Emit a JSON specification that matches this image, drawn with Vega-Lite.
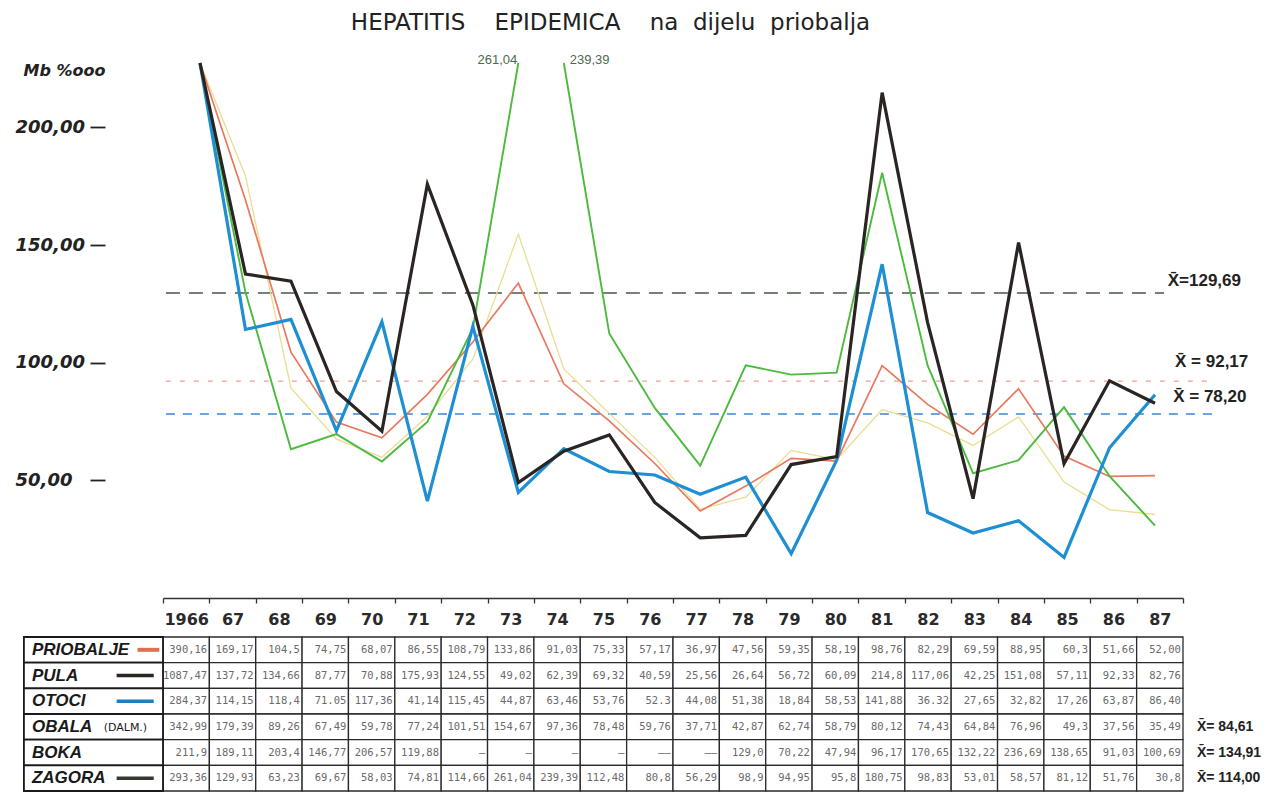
{
  "$schema": "https://vega.github.io/schema/vega-lite/v6.json",
  "width": 1269,
  "height": 801,
  "autosize": {"type": "none"},
  "padding": 0,
  "background": "white",
  "config": {"view": {"stroke": null}},
  "title": {
    "text": "HEPATITIS\u00a0\u00a0\u00a0\u00a0EPIDEMICA\u00a0\u00a0\u00a0\u00a0na\u00a0\u00a0dijelu\u00a0\u00a0priobalja",
    "anchor": "middle",
    "frame": "group",
    "font": "DejaVu Sans",
    "fontSize": 23,
    "fontWeight": "normal",
    "color": "#222222",
    "offset": 0,
    "baseline": "alphabetic",
    "dy": 53,
    "dx": -24
  },
  "datasets": {
    "t": [
      {"s":"PRIOBALJE","yr":1966,"v":390.16,"t":"390,16"},
      {"s":"PRIOBALJE","yr":1967,"v":169.17,"t":"169,17"},
      {"s":"PRIOBALJE","yr":1968,"v":104.5,"t":"104,5"},
      {"s":"PRIOBALJE","yr":1969,"v":74.75,"t":"74,75"},
      {"s":"PRIOBALJE","yr":1970,"v":68.07,"t":"68,07"},
      {"s":"PRIOBALJE","yr":1971,"v":86.55,"t":"86,55"},
      {"s":"PRIOBALJE","yr":1972,"v":108.79,"t":"108,79"},
      {"s":"PRIOBALJE","yr":1973,"v":133.86,"t":"133,86"},
      {"s":"PRIOBALJE","yr":1974,"v":91.03,"t":"91,03"},
      {"s":"PRIOBALJE","yr":1975,"v":75.33,"t":"75,33"},
      {"s":"PRIOBALJE","yr":1976,"v":57.17,"t":"57,17"},
      {"s":"PRIOBALJE","yr":1977,"v":36.97,"t":"36,97"},
      {"s":"PRIOBALJE","yr":1978,"v":47.56,"t":"47,56"},
      {"s":"PRIOBALJE","yr":1979,"v":59.35,"t":"59,35"},
      {"s":"PRIOBALJE","yr":1980,"v":58.19,"t":"58,19"},
      {"s":"PRIOBALJE","yr":1981,"v":98.76,"t":"98,76"},
      {"s":"PRIOBALJE","yr":1982,"v":82.29,"t":"82,29"},
      {"s":"PRIOBALJE","yr":1983,"v":69.59,"t":"69,59"},
      {"s":"PRIOBALJE","yr":1984,"v":88.95,"t":"88,95"},
      {"s":"PRIOBALJE","yr":1985,"v":60.3,"t":"60,3"},
      {"s":"PRIOBALJE","yr":1986,"v":51.66,"t":"51,66"},
      {"s":"PRIOBALJE","yr":1987,"v":52.0,"t":"52,00"},
      {"s":"PULA","yr":1966,"v":1087.47,"t":"1087,47"},
      {"s":"PULA","yr":1967,"v":137.72,"t":"137,72"},
      {"s":"PULA","yr":1968,"v":134.66,"t":"134,66"},
      {"s":"PULA","yr":1969,"v":87.77,"t":"87,77"},
      {"s":"PULA","yr":1970,"v":70.88,"t":"70,88"},
      {"s":"PULA","yr":1971,"v":175.93,"t":"175,93"},
      {"s":"PULA","yr":1972,"v":124.55,"t":"124,55"},
      {"s":"PULA","yr":1973,"v":49.02,"t":"49,02"},
      {"s":"PULA","yr":1974,"v":62.39,"t":"62,39"},
      {"s":"PULA","yr":1975,"v":69.32,"t":"69,32"},
      {"s":"PULA","yr":1976,"v":40.59,"t":"40,59"},
      {"s":"PULA","yr":1977,"v":25.56,"t":"25,56"},
      {"s":"PULA","yr":1978,"v":26.64,"t":"26,64"},
      {"s":"PULA","yr":1979,"v":56.72,"t":"56,72"},
      {"s":"PULA","yr":1980,"v":60.09,"t":"60,09"},
      {"s":"PULA","yr":1981,"v":214.8,"t":"214,8"},
      {"s":"PULA","yr":1982,"v":117.06,"t":"117,06"},
      {"s":"PULA","yr":1983,"v":42.25,"t":"42,25"},
      {"s":"PULA","yr":1984,"v":151.08,"t":"151,08"},
      {"s":"PULA","yr":1985,"v":57.11,"t":"57,11"},
      {"s":"PULA","yr":1986,"v":92.33,"t":"92,33"},
      {"s":"PULA","yr":1987,"v":82.76,"t":"82,76"},
      {"s":"OTOCI","yr":1966,"v":284.37,"t":"284,37"},
      {"s":"OTOCI","yr":1967,"v":114.15,"t":"114,15"},
      {"s":"OTOCI","yr":1968,"v":118.4,"t":"118,4"},
      {"s":"OTOCI","yr":1969,"v":71.05,"t":"71.05"},
      {"s":"OTOCI","yr":1970,"v":117.36,"t":"117,36"},
      {"s":"OTOCI","yr":1971,"v":41.14,"t":"41,14"},
      {"s":"OTOCI","yr":1972,"v":115.45,"t":"115,45"},
      {"s":"OTOCI","yr":1973,"v":44.87,"t":"44,87"},
      {"s":"OTOCI","yr":1974,"v":63.46,"t":"63,46"},
      {"s":"OTOCI","yr":1975,"v":53.76,"t":"53,76"},
      {"s":"OTOCI","yr":1976,"v":52.3,"t":"52.3"},
      {"s":"OTOCI","yr":1977,"v":44.08,"t":"44,08"},
      {"s":"OTOCI","yr":1978,"v":51.38,"t":"51,38"},
      {"s":"OTOCI","yr":1979,"v":18.84,"t":"18,84"},
      {"s":"OTOCI","yr":1980,"v":58.53,"t":"58,53"},
      {"s":"OTOCI","yr":1981,"v":141.88,"t":"141,88"},
      {"s":"OTOCI","yr":1982,"v":36.32,"t":"36.32"},
      {"s":"OTOCI","yr":1983,"v":27.65,"t":"27,65"},
      {"s":"OTOCI","yr":1984,"v":32.82,"t":"32,82"},
      {"s":"OTOCI","yr":1985,"v":17.26,"t":"17,26"},
      {"s":"OTOCI","yr":1986,"v":63.87,"t":"63,87"},
      {"s":"OTOCI","yr":1987,"v":86.4,"t":"86,40"},
      {"s":"OBALA","yr":1966,"v":342.99,"t":"342,99"},
      {"s":"OBALA","yr":1967,"v":179.39,"t":"179,39"},
      {"s":"OBALA","yr":1968,"v":89.26,"t":"89,26"},
      {"s":"OBALA","yr":1969,"v":67.49,"t":"67,49"},
      {"s":"OBALA","yr":1970,"v":59.78,"t":"59,78"},
      {"s":"OBALA","yr":1971,"v":77.24,"t":"77,24"},
      {"s":"OBALA","yr":1972,"v":101.51,"t":"101,51"},
      {"s":"OBALA","yr":1973,"v":154.67,"t":"154,67"},
      {"s":"OBALA","yr":1974,"v":97.36,"t":"97,36"},
      {"s":"OBALA","yr":1975,"v":78.48,"t":"78,48"},
      {"s":"OBALA","yr":1976,"v":59.76,"t":"59,76"},
      {"s":"OBALA","yr":1977,"v":37.71,"t":"37,71"},
      {"s":"OBALA","yr":1978,"v":42.87,"t":"42,87"},
      {"s":"OBALA","yr":1979,"v":62.74,"t":"62,74"},
      {"s":"OBALA","yr":1980,"v":58.79,"t":"58,79"},
      {"s":"OBALA","yr":1981,"v":80.12,"t":"80,12"},
      {"s":"OBALA","yr":1982,"v":74.43,"t":"74,43"},
      {"s":"OBALA","yr":1983,"v":64.84,"t":"64,84"},
      {"s":"OBALA","yr":1984,"v":76.96,"t":"76,96"},
      {"s":"OBALA","yr":1985,"v":49.3,"t":"49,3"},
      {"s":"OBALA","yr":1986,"v":37.56,"t":"37,56"},
      {"s":"OBALA","yr":1987,"v":35.49,"t":"35,49"},
      {"s":"BOKA","yr":1966,"v":211.9,"t":"211,9"},
      {"s":"BOKA","yr":1967,"v":189.11,"t":"189,11"},
      {"s":"BOKA","yr":1968,"v":203.4,"t":"203,4"},
      {"s":"BOKA","yr":1969,"v":146.77,"t":"146,77"},
      {"s":"BOKA","yr":1970,"v":206.57,"t":"206,57"},
      {"s":"BOKA","yr":1971,"v":119.88,"t":"119,88"},
      {"s":"BOKA","yr":1972,"v":null,"t":"—"},
      {"s":"BOKA","yr":1973,"v":null,"t":"—"},
      {"s":"BOKA","yr":1974,"v":null,"t":"—"},
      {"s":"BOKA","yr":1975,"v":null,"t":"—"},
      {"s":"BOKA","yr":1976,"v":null,"t":"——"},
      {"s":"BOKA","yr":1977,"v":null,"t":"——"},
      {"s":"BOKA","yr":1978,"v":129.0,"t":"129,0"},
      {"s":"BOKA","yr":1979,"v":70.22,"t":"70,22"},
      {"s":"BOKA","yr":1980,"v":47.94,"t":"47,94"},
      {"s":"BOKA","yr":1981,"v":96.17,"t":"96,17"},
      {"s":"BOKA","yr":1982,"v":170.65,"t":"170,65"},
      {"s":"BOKA","yr":1983,"v":132.22,"t":"132,22"},
      {"s":"BOKA","yr":1984,"v":236.69,"t":"236,69"},
      {"s":"BOKA","yr":1985,"v":138.65,"t":"138,65"},
      {"s":"BOKA","yr":1986,"v":91.03,"t":"91,03"},
      {"s":"BOKA","yr":1987,"v":100.69,"t":"100,69"},
      {"s":"ZAGORA","yr":1966,"v":293.36,"t":"293,36"},
      {"s":"ZAGORA","yr":1967,"v":129.93,"t":"129,93"},
      {"s":"ZAGORA","yr":1968,"v":63.23,"t":"63,23"},
      {"s":"ZAGORA","yr":1969,"v":69.67,"t":"69,67"},
      {"s":"ZAGORA","yr":1970,"v":58.03,"t":"58,03"},
      {"s":"ZAGORA","yr":1971,"v":74.81,"t":"74,81"},
      {"s":"ZAGORA","yr":1972,"v":114.66,"t":"114,66"},
      {"s":"ZAGORA","yr":1973,"v":261.04,"t":"261,04"},
      {"s":"ZAGORA","yr":1974,"v":239.39,"t":"239,39"},
      {"s":"ZAGORA","yr":1975,"v":112.48,"t":"112,48"},
      {"s":"ZAGORA","yr":1976,"v":80.8,"t":"80,8"},
      {"s":"ZAGORA","yr":1977,"v":56.29,"t":"56,29"},
      {"s":"ZAGORA","yr":1978,"v":98.9,"t":"98,9"},
      {"s":"ZAGORA","yr":1979,"v":94.95,"t":"94,95"},
      {"s":"ZAGORA","yr":1980,"v":95.8,"t":"95,8"},
      {"s":"ZAGORA","yr":1981,"v":180.75,"t":"180,75"},
      {"s":"ZAGORA","yr":1982,"v":98.83,"t":"98,83"},
      {"s":"ZAGORA","yr":1983,"v":53.01,"t":"53,01"},
      {"s":"ZAGORA","yr":1984,"v":58.57,"t":"58,57"},
      {"s":"ZAGORA","yr":1985,"v":81.12,"t":"81,12"},
      {"s":"ZAGORA","yr":1986,"v":51.76,"t":"51,76"},
      {"s":"ZAGORA","yr":1987,"v":30.8,"t":"30,8"}
    ]
  },
  "layer": [
    {
      "layer": [
        {
          "data": {"values": [{"mean": 129.69, "label": "X̄=129,69"}]},
          "mark": {"type": "rule", "color": "#485848", "strokeWidth": 1.5, "strokeDash": [14, 9]},
          "encoding": {
            "y": {"field": "mean", "type": "quantitative",
              "scale": {"domain": [0, 227.4], "range": [598, 63], "clamp": true, "nice": false, "zero": false},
              "axis": {
                "orient": "left", "offset": -105, "values": [50, 100, 150, 200],
                "labelExpr": "replace(format(datum.value, '.2f'), '.', ',')",
                "domain": false, "grid": false,
                "ticks": true, "tickSize": 15, "tickWidth": 1.8, "tickColor": "#222222",
                "labelAlign": "left", "labelPadding": 75, "labelBaseline": "middle",
                "labelFont": "DejaVu Sans", "labelFontSize": 18, "labelFontStyle": "italic", "labelFontWeight": "bold", "labelColor": "#222222",
                "title": "Mb %ooo", "titleAngle": 0, "titleX": -82, "titleY": 75, "titleAlign": "left", "titleBaseline": "alphabetic",
                "titleFont": "DejaVu Sans", "titleFontSize": 16, "titleFontStyle": "italic", "titleFontWeight": "bold", "titleColor": "#222222"
              }
            },
            "x": {"datum": 1965.25, "type": "quantitative", "scale": {"domain": [1966, 1987], "range": [200, 1155], "nice": false, "zero": false}, "axis": null},
            "x2": {"datum": 1987.2}
          }
        },
        {
          "data": {"values": [{"mean": 92.17, "label": "X̄ = 92,17"}]},
          "mark": {"type": "rule", "color": "#f0a090", "strokeWidth": 1.4, "strokeDash": [5, 9]},
          "encoding": {
            "y": {"field": "mean", "type": "quantitative"},
            "x": {"datum": 1965.25, "type": "quantitative", "axis": null},
            "x2": {"datum": 1988.3}
          }
        },
        {
          "data": {"values": [{"mean": 78.2, "label": "X̄ = 78,20"}]},
          "mark": {"type": "rule", "color": "#3a86d6", "strokeWidth": 1.5, "strokeDash": [9, 8]},
          "encoding": {
            "y": {"field": "mean", "type": "quantitative"},
            "x": {"datum": 1965.25, "type": "quantitative", "axis": null},
            "x2": {"datum": 1988.3}
          }
        },
        {
          "data": {"values": [{"mean": 129.69, "label": "X̄=129,69"}]},
          "mark": {"type": "text", "align": "left", "baseline": "alphabetic", "dy": -7, "font": "Liberation Sans", "fontSize": 17, "fontWeight": "bold", "color": "#222222"},
          "encoding": {
            "y": {"field": "mean", "type": "quantitative"},
            "x": {"datum": 1987.28, "type": "quantitative", "axis": null},
            "text": {"field": "label"}
          }
        },
        {
          "data": {"values": [{"mean": 92.17, "label": "X̄ = 92,17"}]},
          "mark": {"type": "text", "align": "left", "baseline": "alphabetic", "dy": -14, "font": "Liberation Sans", "fontSize": 17, "fontWeight": "bold", "color": "#222222"},
          "encoding": {
            "y": {"field": "mean", "type": "quantitative"},
            "x": {"datum": 1987.44, "type": "quantitative", "axis": null},
            "text": {"field": "label"}
          }
        },
        {
          "data": {"values": [{"mean": 78.2, "label": "X̄ = 78,20"}]},
          "mark": {"type": "text", "align": "left", "baseline": "alphabetic", "dy": -12, "font": "Liberation Sans", "fontSize": 17, "fontWeight": "bold", "color": "#222222"},
          "encoding": {
            "y": {"field": "mean", "type": "quantitative"},
            "x": {"datum": 1987.4, "type": "quantitative", "axis": null},
            "text": {"field": "label"}
          }
        },
        {
          "data": {"name": "t"},
          "transform": [{"filter": "datum.s == 'OBALA'"}],
          "mark": {"type": "line", "color": "#ebdd8f", "strokeWidth": 1.3},
          "encoding": {
            "x": {"field": "yr", "type": "quantitative", "axis": null},
            "y": {"field": "v", "type": "quantitative"}
          }
        },
        {
          "data": {"name": "t"},
          "transform": [{"filter": "datum.s == 'PRIOBALJE'"}],
          "mark": {"type": "line", "color": "#e8785e", "strokeWidth": 1.7},
          "encoding": {
            "x": {"field": "yr", "type": "quantitative", "axis": null},
            "y": {"field": "v", "type": "quantitative"}
          }
        },
        {
          "data": {"name": "t"},
          "transform": [{"filter": "datum.s == 'ZAGORA' && datum.yr <= 1973"}],
          "mark": {"type": "line", "color": "#4cba3e", "strokeWidth": 1.9},
          "encoding": {
            "x": {"field": "yr", "type": "quantitative", "axis": null},
            "y": {"field": "v", "type": "quantitative"}
          }
        },
        {
          "data": {"name": "t"},
          "transform": [{"filter": "datum.s == 'ZAGORA' && datum.yr >= 1974"}],
          "mark": {"type": "line", "color": "#4cba3e", "strokeWidth": 1.9},
          "encoding": {
            "x": {"field": "yr", "type": "quantitative", "axis": null},
            "y": {"field": "v", "type": "quantitative"}
          }
        },
        {
          "data": {"name": "t"},
          "transform": [{"filter": "datum.s == 'OTOCI'"}],
          "mark": {"type": "line", "color": "#1d8fd2", "strokeWidth": 3.2},
          "encoding": {
            "x": {"field": "yr", "type": "quantitative", "axis": null},
            "y": {"field": "v", "type": "quantitative"}
          }
        },
        {
          "data": {"name": "t"},
          "transform": [{"filter": "datum.s == 'PULA'"}],
          "mark": {"type": "line", "color": "#2a2522", "strokeWidth": 3.2},
          "encoding": {
            "x": {"field": "yr", "type": "quantitative", "axis": null},
            "y": {"field": "v", "type": "quantitative"}
          }
        },
        {
          "data": {"name": "t"},
          "transform": [{"filter": "datum.s == 'ZAGORA' && datum.yr == 1973"}],
          "mark": {"type": "text", "align": "center", "baseline": "alphabetic", "dx": -21, "font": "Liberation Sans", "fontSize": 13, "color": "#4e6a4e"},
          "encoding": {
            "x": {"field": "yr", "type": "quantitative", "axis": null},
            "y": {"datum": 227, "type": "quantitative"},
            "text": {"field": "t"}
          }
        },
        {
          "data": {"name": "t"},
          "transform": [{"filter": "datum.s == 'ZAGORA' && datum.yr == 1974"}],
          "mark": {"type": "text", "align": "left", "baseline": "alphabetic", "dx": 6, "font": "Liberation Sans", "fontSize": 13, "color": "#4e6a4e"},
          "encoding": {
            "x": {"field": "yr", "type": "quantitative", "axis": null},
            "y": {"datum": 227, "type": "quantitative"},
            "text": {"field": "t"}
          }
        }
      ]
    },
    {
      "layer": [
        {
          "data": {"name": "t"},
          "mark": {"type": "rect", "width": 46.36, "fill": "white", "stroke": "#2a2a2a", "strokeWidth": 1.3},
          "encoding": {
            "x": {"field": "yr", "type": "quantitative",
              "scale": {"domain": [1965.5, 1987.5], "range": [163, 1183], "nice": false, "zero": false},
              "axis": {
                "orient": "bottom", "offset": -203,
                "values": [1965.5, 1966.5, 1967.5, 1968.5, 1969.5, 1970.5, 1971.5, 1972.5, 1973.5, 1974.5, 1975.5, 1976.5, 1977.5, 1978.5, 1979.5, 1980.5, 1981.5, 1982.5, 1983.5, 1984.5, 1985.5, 1986.5, 1987.5],
                "labelExpr": "datum.value > 1987 ? '' : (datum.value < 1966 ? '1966' : substring(toString(datum.value + 0.5), 2, 4))",
                "labelOffset": 23.18, "labelOverlap": false, "labelFlush": false, "labelBound": false,
                "labelPadding": 8, "labelBaseline": "top",
                "labelFont": "DejaVu Sans", "labelFontSize": 16, "labelFontWeight": "bold", "labelColor": "#2a2a2a",
                "domain": true, "domainColor": "#333333", "domainWidth": 1.5,
                "ticks": true, "tickSize": 5, "tickColor": "#333333", "tickWidth": 1.3,
                "grid": false, "title": null
              }
            },
            "y": {"field": "s", "type": "nominal",
              "scale": {"type": "band", "domain": ["PRIOBALJE", "PULA", "OTOCI", "OBALA", "BOKA", "ZAGORA"], "range": [637, 791], "paddingInner": 0, "paddingOuter": 0},
              "axis": null}
          }
        },
        {
          "data": {"name": "t"},
          "transform": [{"filter": "datum.yr == 1966"}],
          "mark": {"type": "rect", "width": 139.08, "fill": "white", "stroke": "#1a1a1a", "strokeWidth": 1.8},
          "encoding": {
            "x": {"datum": 1964, "type": "quantitative"},
            "y": {"field": "s", "type": "nominal"}
          }
        },
        {
          "data": {"name": "t"},
          "mark": {"type": "text", "align": "right", "baseline": "middle", "dx": 21, "font": "DejaVu Sans Mono", "fontSize": 10.5, "color": "#6a6a6a"},
          "encoding": {
            "x": {"field": "yr", "type": "quantitative"},
            "y": {"field": "s", "type": "nominal"},
            "text": {"field": "t"}
          }
        },
        {
          "data": {"name": "t"},
          "transform": [{"filter": "datum.yr == 1966"}],
          "mark": {"type": "text", "align": "left", "baseline": "middle", "dx": 8, "font": "Liberation Sans", "fontSize": 17, "fontStyle": "italic", "fontWeight": "bold", "color": "#1a1a1a"},
          "encoding": {
            "x": {"datum": 1962.5, "type": "quantitative"},
            "y": {"field": "s", "type": "nominal"},
            "text": {"field": "s"}
          }
        },
        {
          "data": {"name": "t"},
          "transform": [{"filter": "datum.yr == 1966 && datum.s == 'OBALA'"}],
          "mark": {"type": "text", "align": "left", "baseline": "middle", "dy": 1, "font": "DejaVu Sans", "fontSize": 11, "color": "#1a1a1a"},
          "encoding": {
            "x": {"datum": 1964.22, "type": "quantitative"},
            "y": {"field": "s", "type": "nominal"},
            "text": {"value": "(DALM.)"}
          }
        },
        {
          "data": {"name": "t"},
          "transform": [{"filter": "datum.yr == 1966 && datum.s == 'PRIOBALJE'"}],
          "mark": {"type": "rule", "strokeWidth": 4, "color": "#e0704f"},
          "encoding": {
            "x": {"datum": 1964.95, "type": "quantitative"},
            "x2": {"datum": 1965.42},
            "y": {"field": "s", "type": "nominal"}
          }
        },
        {
          "data": {"name": "t"},
          "transform": [{"filter": "datum.yr == 1966 && datum.s != 'OBALA' && datum.s != 'BOKA' && datum.s != 'PRIOBALJE'"}],
          "mark": {"type": "rule", "strokeWidth": 3.5},
          "encoding": {
            "x": {"datum": 1964.5, "type": "quantitative"},
            "x2": {"datum": 1965.3},
            "y": {"field": "s", "type": "nominal"},
            "color": {"field": "s", "type": "nominal", "legend": null,
              "scale": {"domain": ["PULA", "OTOCI", "ZAGORA"], "range": ["#2a2522", "#1d7fc2", "#333a30"]}}
          }
        },
        {
          "data": {"values": [
            {"s": "OBALA", "label": "X̄= 84,61"},
            {"s": "BOKA", "label": "X̄= 134,91"},
            {"s": "ZAGORA", "label": "X̄= 114,00"}
          ]},
          "mark": {"type": "text", "align": "left", "baseline": "middle", "font": "Liberation Sans", "fontSize": 14, "fontWeight": "bold", "color": "#222222"},
          "encoding": {
            "x": {"datum": 1987.8, "type": "quantitative"},
            "y": {"field": "s", "type": "nominal"},
            "text": {"field": "label"}
          }
        }
      ]
    }
  ],
  "resolve": {
    "scale": {"x": "independent", "y": "independent", "color": "independent"},
    "axis": {"x": "independent", "y": "independent"}
  }
}
